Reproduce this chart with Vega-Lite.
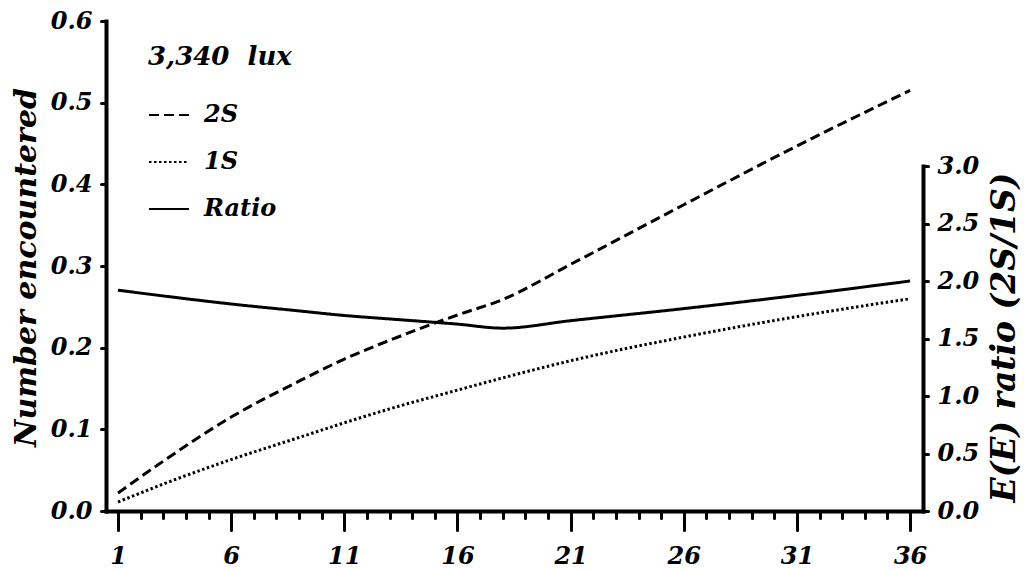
{
  "$schema": "https://vega.github.io/schema/vega-lite/v6.json",
  "width": 817,
  "height": 490,
  "autosize": {"type": "none"},
  "padding": {"left": 106, "top": 21, "right": 101, "bottom": 59},
  "background": "white",
  "config": {
    "view": {"stroke": null},
    "axis": {
      "domainColor": "black",
      "domainWidth": 4,
      "domainCap": "square",
      "tickColor": "black",
      "tickWidth": 3,
      "tickCap": "round",
      "labelColor": "black",
      "labelFont": "DejaVu Serif",
      "labelFontStyle": "italic",
      "labelFontWeight": "bold",
      "titleColor": "black",
      "titleFont": "DejaVu Serif",
      "titleFontStyle": "italic",
      "titleFontWeight": "bold",
      "grid": false
    },
    "legend": {
      "symbolStrokeColor": "black",
      "labelColor": "black",
      "titleColor": "black"
    }
  },
  "data": {
    "values": [
      {"x": 1, "series": "2S", "v": 0.022},
      {"x": 3, "series": "2S", "v": 0.061},
      {"x": 6, "series": "2S", "v": 0.115},
      {"x": 9, "series": "2S", "v": 0.159},
      {"x": 11, "series": "2S", "v": 0.186},
      {"x": 13, "series": "2S", "v": 0.209},
      {"x": 16, "series": "2S", "v": 0.240},
      {"x": 18, "series": "2S", "v": 0.259},
      {"x": 21, "series": "2S", "v": 0.302},
      {"x": 26, "series": "2S", "v": 0.375},
      {"x": 31, "series": "2S", "v": 0.447},
      {"x": 36, "series": "2S", "v": 0.515},
      {"x": 1, "series": "1S", "v": 0.011},
      {"x": 3, "series": "1S", "v": 0.033},
      {"x": 6, "series": "1S", "v": 0.063},
      {"x": 9, "series": "1S", "v": 0.090},
      {"x": 11, "series": "1S", "v": 0.108},
      {"x": 13, "series": "1S", "v": 0.125},
      {"x": 16, "series": "1S", "v": 0.148},
      {"x": 18, "series": "1S", "v": 0.163},
      {"x": 21, "series": "1S", "v": 0.184},
      {"x": 26, "series": "1S", "v": 0.213},
      {"x": 31, "series": "1S", "v": 0.238},
      {"x": 36, "series": "1S", "v": 0.260},
      {"x": 1, "series": "Ratio", "v": 1.92},
      {"x": 3, "series": "Ratio", "v": 1.87},
      {"x": 6, "series": "Ratio", "v": 1.80},
      {"x": 9, "series": "Ratio", "v": 1.74},
      {"x": 11, "series": "Ratio", "v": 1.70},
      {"x": 13, "series": "Ratio", "v": 1.67},
      {"x": 16, "series": "Ratio", "v": 1.625},
      {"x": 18, "series": "Ratio", "v": 1.59},
      {"x": 21, "series": "Ratio", "v": 1.655},
      {"x": 26, "series": "Ratio", "v": 1.76},
      {"x": 31, "series": "Ratio", "v": 1.875},
      {"x": 36, "series": "Ratio", "v": 2.00}
    ]
  },
  "layer": [
    {
      "transform": [{"filter": "datum.series !== 'Ratio'"}],
      "mark": {"type": "line", "color": "black", "strokeWidth": 3, "interpolate": "monotone"},
      "encoding": {
        "x": {
          "field": "x",
          "type": "quantitative",
          "scale": {"domain": [0.47, 36.57], "nice": false, "zero": false},
          "axis": {
            "title": null,
            "values": [1,2,3,4,5,6,7,8,9,10,11,12,13,14,15,16,17,18,19,20,21,22,23,24,25,26,27,28,29,30,31,32,33,34,35,36],
            "tickCount": 40,
            "labelExpr": "(datum.value - 1) % 5 === 0 ? datum.label : ''",
            "format": "d",
            "tickSize": {"condition": {"test": "(datum.value - 1) % 5 === 0", "value": 19}, "value": 7},
            "labelFontSize": 24,
            "labelPadding": 14,
            "labelOverlap": false,
            "labelFlush": false
          }
        },
        "y": {
          "field": "v",
          "type": "quantitative",
          "scale": {"domain": [0, 0.6], "nice": false},
          "axis": {
            "values": [0, 0.1, 0.2, 0.3, 0.4, 0.5, 0.6],
            "format": ".1f",
            "tickSize": 5,
            "labelFontSize": 24,
            "labelPadding": 9,
            "title": "Number encountered",
            "titleFontSize": 30,
            "titleAngle": 270,
            "titleBaseline": "middle",
            "titleAlign": "center",
            "titleX": -80,
            "titleY": 246
          }
        },
        "strokeDash": {
          "field": "series",
          "type": "nominal",
          "scale": {"domain": ["2S", "1S", "Ratio"], "range": [[10, 5], [2.5, 2.5], [1, 0]]},
          "legend": {
            "orient": "none",
            "legendX": 42,
            "legendY": 23,
            "padding": 0,
            "title": "3,340\u00a0\u00a0lux",
            "titleFont": "DejaVu Serif",
            "titleFontSize": 26,
            "titleFontStyle": "italic",
            "titleFontWeight": "bold",
            "titlePadding": 24,
            "labelFont": "DejaVu Serif",
            "labelFontSize": 24,
            "labelFontStyle": "italic",
            "labelFontWeight": "bold",
            "labelOffset": 14,
            "symbolType": "stroke",
            "symbolSize": 1600,
            "symbolStrokeWidth": 2,
            "rowPadding": 14
          }
        }
      }
    },
    {
      "transform": [{"filter": "datum.series === 'Ratio'"}],
      "mark": {"type": "line", "color": "black", "strokeWidth": 3, "interpolate": "monotone"},
      "encoding": {
        "x": {"field": "x", "type": "quantitative"},
        "y": {
          "field": "v",
          "type": "quantitative",
          "scale": {"domain": [0, 3], "range": [490, 145], "nice": false},
          "axis": {
            "orient": "right",
            "values": [0, 0.5, 1, 1.5, 2, 2.5, 3],
            "format": ".1f",
            "tickSize": 5,
            "labelFontSize": 24,
            "labelPadding": 9,
            "title": "E(E) ratio (2S/1S)",
            "titleFontSize": 33,
            "titleAngle": 270,
            "titleBaseline": "middle",
            "titleAlign": "center",
            "titleX": 81,
            "titleY": 316
          }
        },
        "strokeDash": {"field": "series", "type": "nominal"}
      }
    }
  ],
  "resolve": {"scale": {"y": "independent"}}
}
